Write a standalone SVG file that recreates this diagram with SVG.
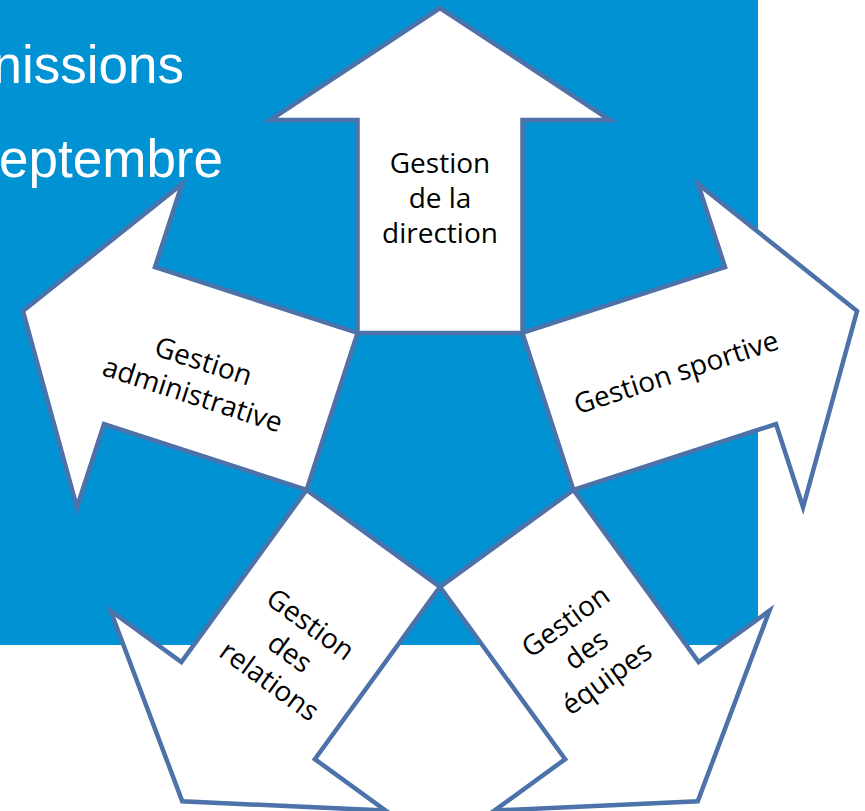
<svg xmlns="http://www.w3.org/2000/svg" xmlns:xlink="http://www.w3.org/1999/xlink" width="865" height="811" viewBox="0 0 865 811">
<style>
.bg{fill:#0192D3}
.arrow{fill:#FFFFFF;stroke:#4C72A9;stroke-width:4.5;stroke-linejoin:miter}
.lbl{font-family:"Open Sans","DejaVu Sans",sans-serif;font-size:28px;fill:#000000;text-anchor:middle}
.title{font-family:"Liberation Sans",Arial,sans-serif;font-size:53px;fill:#FFFFFF;text-anchor:end}
</style>
<defs>
<path id="arrow" class="arrow" d="M -82.5,-113.5 L -82.5,-326.5 L -170,-326.5 L 0,-438.5 L 170,-326.5 L 82.5,-326.5 L 82.5,-113.5 Z"/>
</defs>
<rect class="bg" x="0" y="0" width="758" height="645"/>
<text class="title" x="184" y="83">nissions</text>
<text class="title" x="223" y="177">eptembre</text>
<g id="connectors"></g>
<g id="direction">
<use xlink:href="#arrow" href="#arrow" transform="translate(440,446.5)"/>
<text class="lbl" transform="translate(440,200)"><tspan x="0" y="-27">Gestion</tspan><tspan x="0" y="8">de la</tspan><tspan x="0" y="43">direction</tspan></text>
</g>
<g id="sportive">
<use xlink:href="#arrow" href="#arrow" transform="translate(440,446.5) rotate(72)"/>
<text class="lbl" transform="translate(676,372) rotate(-18)"><tspan x="0" y="10">Gestion sportive</tspan></text>
</g>
<g id="equipes">
<use xlink:href="#arrow" href="#arrow" transform="translate(440,446.5) rotate(144)"/>
<text class="lbl" transform="translate(587,651) rotate(-36)"><tspan x="0" y="-27">Gestion</tspan><tspan x="0" y="8">des</tspan><tspan x="0" y="43">équipes</tspan></text>
</g>
<g id="relations">
<use xlink:href="#arrow" href="#arrow" transform="translate(440,446.5) rotate(216)"/>
<text class="lbl" transform="translate(289,654) rotate(36)"><tspan x="0" y="-27">Gestion</tspan><tspan x="0" y="8">des</tspan><tspan x="0" y="43">relations</tspan></text>
</g>
<g id="administrative">
<use xlink:href="#arrow" href="#arrow" transform="translate(440,446.5) rotate(288)"/>
<text class="lbl" transform="translate(198,378) rotate(18)"><tspan x="0" y="-8">Gestion</tspan><tspan x="0" y="27">administrative</tspan></text>
</g>
</svg>
